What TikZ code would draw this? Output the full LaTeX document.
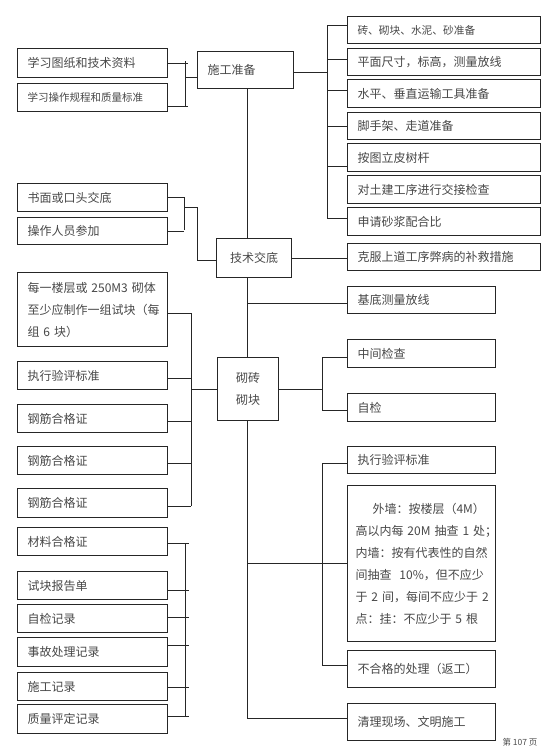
\documentclass[tikz,border=0pt]{standalone}
\usepackage{fontspec}
\setmainfont{Noto Sans CJK SC}
\tikzset{
  box/.style={draw=black!85, line width=1pt, anchor=north west, inner xsep=10pt, inner ysep=0pt,
    align=left, text=black!72, font=\fontsize{12}{22}\selectfont},
  lbox/.style={box, text width=130pt, minimum height=#1},
  rbox/.style={box, text width=173pt, minimum height=#1},
  sbox/.style={box, text width=128pt, minimum height=#1},
  ln/.style={draw=black!85, line width=1pt}
}
\begin{document}
\begin{tikzpicture}[x=1pt,y=-1pt]
\useasboundingbox (0,0) rectangle (554,747);
% left column
\node[lbox=29pt] (L1) at (17,48) {学习图纸和技术资料};
\node[lbox=28pt, font=\fontsize{10.5}{14}\selectfont] (L2) at (17,83) {学习操作规程和质量标准};
\node[lbox=28pt] (L3) at (17,183) {书面或口头交底};
\node[lbox=27pt] (L4) at (17,217) {操作人员参加};
\node[lbox=74pt] (L5) at (17,272) {每一楼层或~250M3~砌体\\至少应制作一组试块（每\\组~6~块）};
\node[lbox=28pt] (L6) at (17,361) {执行验评标准};
\node[lbox=28pt] (L7) at (17,404) {钢筋合格证};
\node[lbox=28pt] (L8) at (17,446) {钢筋合格证};
\node[lbox=29pt] (L9) at (17,488) {钢筋合格证};
\node[lbox=28pt] (L10) at (17,527) {材料合格证};
\node[lbox=28pt] (L11) at (17,571) {试块报告单};
\node[lbox=28pt] (L12) at (17,604) {自检记录};
\node[lbox=29pt] (L13) at (17,637) {事故处理记录};
\node[lbox=28pt] (L14) at (17,672) {施工记录};
\node[lbox=29pt] (L15) at (17,704) {质量评定记录};
% centre column
\node[box, text width=76pt, minimum height=37pt] (C1) at (197,51) {施工准备};
\node[box, align=center, text width=55pt, minimum height=39pt] (C2) at (216,238) {技术交底};
\node[box, align=center, text width=41pt, minimum height=63pt] (C3) at (217,357) {砌砖\\砌块};
% right column, top
\node[rbox=27pt, font=\fontsize{10.7}{14}\selectfont] (R1) at (347,16) {砖、砌块、水泥、砂准备};
\node[rbox=27pt] (R2) at (347,48) {平面尺寸，标高，测量放线};
\node[rbox=28pt] (R3) at (347,79) {水平、垂直运输工具准备};
\node[rbox=27pt] (R4) at (347,112) {脚手架、走道准备};
\node[rbox=28pt] (R5) at (347,143) {按图立皮树杆};
\node[rbox=28pt] (R6) at (347,175) {对土建工序进行交接检查};
\node[rbox=28pt] (R7) at (347,207) {申请砂浆配合比};
\node[rbox=27pt] (R8) at (347,243) {克服上道工序弊病的补救措施};
% right column, lower
\node[sbox=27pt] (R9) at (347,286) {基底测量放线};
\node[sbox=28pt] (R10) at (347,339) {中间检查};
\node[sbox=28pt] (R11) at (347,393) {自检};
\node[sbox=27pt] (R12) at (347,446) {执行验评标准};
\node[box, inner xsep=8pt, text width=132pt, minimum height=156pt] (R13) at (347,485)
  {\hspace*{17pt}外墙：按楼层（4M）\\高以内每~20M~抽查~1~处；\\内墙：按有代表性的自然\\间抽查~~10\%，但不应少\\于~2~间，每间不应少于~2\\点：挂：不应少于~5~根};
\node[sbox=37pt] (R14) at (347,650) {不合格的处理（返工）};
\node[sbox=37pt] (R15) at (347,703) {清理现场、文明施工};
\node[font=\fontsize{8.5}{9}\selectfont, text=black!70, anchor=south, inner sep=0pt] (pg) at (520,746.5) {第~107~页};

% bracket 1
\coordinate (s1) at (185,61);
\coordinate (s1b) at (185,107);
\draw[ln] (L1.east) -- ++(20,0);
\draw[ln] ([yshift=-9pt]L2.east) -- ++(20,0);
\draw[ln] (s1) -- (s1b);
\draw[ln] ([yshift=-7pt]C1.west) -- ([yshift=-7pt]C1.west -| s1);
% right spine
\coordinate (s2t) at (327,25);
\coordinate (s2b) at (327,218);
\draw[ln] (s2t) -- (s2b);
\draw[ln] ([yshift=-2.5pt]C1.east) -- ([yshift=-2.5pt]C1.east -| s2t);
\draw[ln] (s2t) -- (s2t -| R1.west);
\draw[ln] ([yshift=2.5pt]R2.west) -- ([yshift=2.5pt]R2.west -| s2t);
\draw[ln] ([yshift=3pt]R3.west) -- ([yshift=3pt]R3.west -| s2t);
\draw[ln] (R4.west) -- (R4.west -| s2t);
\draw[ln] ([yshift=-9pt]R5.west) -- ([yshift=-9pt]R5.west -| s2t);
\draw[ln] (s2b) -- (s2b -| R7.west);
% main spine
\coordinate (mx) at (247,0);
\draw[ln] (C1.south -| mx) -- (C2.north -| mx);
% bracket 2
\coordinate (s3t) at (184,197);
\coordinate (s3b) at (184,230);
\draw[ln] (L3.east) -- (L3.east -| s3t);
\draw[ln] (L4.east) -- (L4.east -| s3t);
\draw[ln] (s3t) -- (s3b);
\coordinate (j2) at (184,207);
\draw[ln] (j2) -- ++(13,0) |- ([yshift=-2.5pt]C2.west);
\draw[ln] (C2.east) -- (C2.east -| R8.west);
\draw[ln] (C2.south -| mx) -- (C3.north -| mx);
\draw[ln] ([yshift=-3pt]R9.west) -- ([yshift=-3pt]R9.west -| mx);
% left bracket of C3
\coordinate (s4t) at (191,313);
\coordinate (s4b) at (191,506);
\draw[ln] (s4t) -- (s4b);
\draw[ln] ([yshift=-4pt]L5.east) -- ([yshift=-4pt]L5.east -| s4t);
\draw[ln] ([yshift=-3pt]L6.east) -- ([yshift=-3pt]L6.east -| s4t);
\draw[ln] ([yshift=-3pt]L7.east) -- ([yshift=-3pt]L7.east -| s4t);
\draw[ln] ([yshift=-3pt]L8.east) -- ([yshift=-3pt]L8.east -| s4t);
\draw[ln] ([yshift=-3.5pt]L9.east) -- ([yshift=-3.5pt]L9.east -| s4t);
\draw[ln] (C3.west) -- (C3.west -| s4t);
% right bracket of C3
\coordinate (s5t) at (322,357);
\coordinate (s5b) at (322,410);
\draw[ln] (C3.east) -- (C3.east -| s5t);
\draw[ln] (s5t) -- (s5b);
\draw[ln] ([yshift=-4pt]R10.west) -- ([yshift=-4pt]R10.west -| s5t);
\draw[ln] ([yshift=-3pt]R11.west) -- ([yshift=-3pt]R11.west -| s5t);
% lower spine
\draw[ln] (C3.south -| mx) |- ([yshift=3.5pt]R15.west);
\draw[ln] (R13.west) -- (R13.west -| mx);
\draw[ln] ([yshift=-3.5pt]R12.west) -- ++(-25,0) |- ([yshift=3.5pt]R14.west);
% bracket of records
\coordinate (s6t) at (185,543);
\coordinate (s6b) at (185,717);
\draw[ln] (s6t) -- (s6b);
\draw[ln] ([yshift=-2pt]L10.east) -- ++(21,0);
\draw[ln] ([yshift=-5pt]L11.east) -- ++(21,0);
\draw[ln] ([yshift=1pt]L12.east) -- ++(21,0);
\draw[ln] ([yshift=6.5pt]L13.east) -- ++(21,0);
\draw[ln] ([yshift=-1pt]L14.east) -- ++(21,0);
\draw[ln] ([yshift=2.5pt]L15.east) -- ++(21,0);
\end{tikzpicture}
\end{document}
